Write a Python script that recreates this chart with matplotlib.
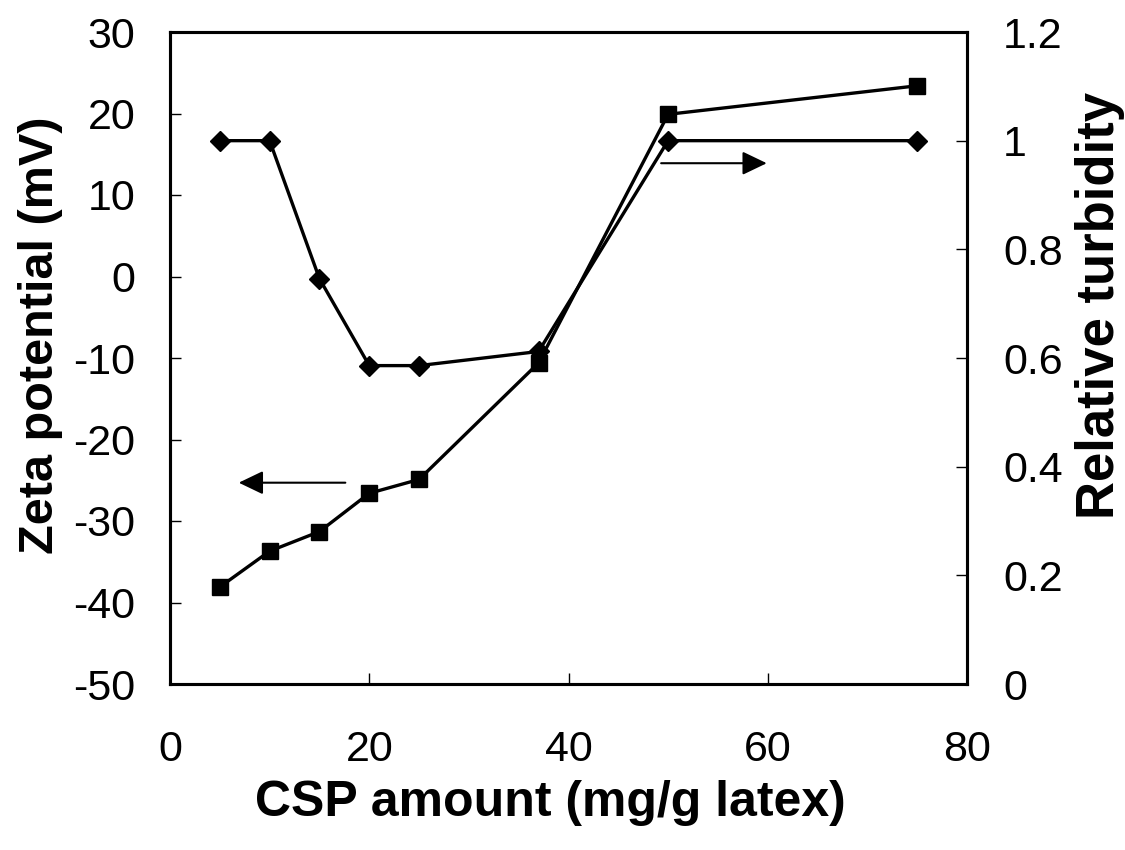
import numpy as np
import matplotlib
matplotlib.use("Agg")
import matplotlib.pyplot as plt

# CSP amount (mg/g latex)
csp = [5, 10, 15, 20, 25, 37, 50, 75]
# zeta potential (mV), squares, left axis
zeta = [-38.1, -33.7, -31.3, -26.6, -24.9, -10.6, 19.9, 23.4]
# relative turbidity, diamonds, right axis
turb = [1.0, 1.0, 0.746, 0.586, 0.586, 0.612, 1.0, 1.0]

plt.rcParams['font.family'] = ['Liberation Sans', 'DejaVu Sans']
plt.rcParams['axes.unicode_minus'] = False

fig = plt.figure(figsize=(11.25, 8.5), dpi=100)
ax = fig.add_axes([170/1125, 1-684/850, (967-170)/1125, (684-32)/850])
ax2 = ax.twinx()

ax.plot(csp, zeta, color='black', lw=2.4, marker='s', ms=12, zorder=3)
ax2.plot(csp, turb, color='black', lw=2.4, marker='D', ms=10, zorder=3)

ax.set_xlim(0, 80)
ax.set_ylim(-50, 30)
ax2.set_ylim(0, 1.2)
ax.set_xticks(np.arange(0, 81, 20))
ax.set_yticks(np.arange(-50, 31, 10))
ax2.set_yticks([0, 0.2, 0.4, 0.6, 0.8, 1.0, 1.2])
ax2.set_yticklabels(['0', '0.2', '0.4', '0.6', '0.8', '1', '1.2'])

for a in (ax, ax2):
    for s in a.spines.values():
        s.set_linewidth(2.2)
ax.tick_params(axis='both', direction='in', length=8, width=1, labelsize=31, pad=25)
ax2.tick_params(axis='y', direction='in', length=8, width=1, labelsize=31, pad=26)
ax.tick_params(axis='x', pad=33)

ax.set_xlabel('CSP amount (mg/g latex)', fontsize=36, fontweight='bold')
ax.set_ylabel('Zeta potential (mV)', fontsize=35, fontweight='bold')
ax2.set_ylabel('Relative turbidity', fontsize=38, fontweight='bold')
ax.xaxis.set_label_coords(0.477, -0.1825)
ax.yaxis.set_label_coords(-0.162, 0.535)
ax2.yaxis.set_label_coords(1.167, 0.581)
ax.xaxis.label.set_va('center')
ax.yaxis.label.set_va('center')
ax2.yaxis.label.set_va('center')

# arrows pointing to the axis each curve belongs to
arrow = dict(arrowstyle='-|>,head_length=0.75,head_width=0.36', mutation_scale=20,
             color='black', lw=1.5, shrinkA=0, shrinkB=0)
ax.annotate('', xy=(6.9, -25.3), xytext=(17.6, -25.3), arrowprops=arrow)
ax.annotate('', xy=(59.9, 13.9), xytext=(49.3, 13.9), arrowprops=arrow)

fig.savefig('out.png', dpi=100)
